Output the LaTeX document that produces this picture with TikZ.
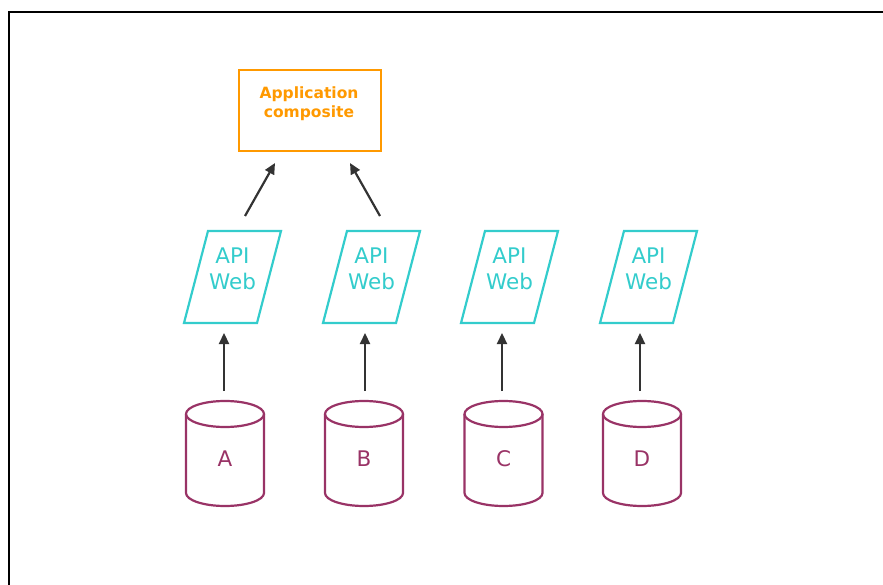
\documentclass[tikz,border=0pt]{standalone}
\usepackage{fontspec}
\setmainfont{DejaVu Sans}
\usetikzlibrary{arrows.meta}
\definecolor{orng}{HTML}{FF9900}
\definecolor{teal2}{HTML}{33CCCC}
\definecolor{purp}{HTML}{993366}
\definecolor{arrc}{HTML}{333333}
\begin{document}
\begin{tikzpicture}[x=1pt,y=-1pt,
  appbox/.style={draw=orng,line width=1.8pt,minimum width=142pt,minimum height=81pt,inner sep=0pt},
  apptxt/.style={text=orng,font=\fontsize{15.5}{19}\selectfont\bfseries,align=center,inner sep=0pt},
  apitxt/.style={text=teal2,font=\fontsize{21.5}{26}\selectfont,align=center,inner sep=0pt},
  para/.style={draw=teal2,line width=2.2pt,line join=miter},
  dbtxt/.style={text=purp,font=\fontsize{21.5}{24}\selectfont,inner sep=0pt},
  cyl/.style={draw=purp,line width=2.2pt},
  arr/.style={draw=arrc,line width=2.2pt,-{Triangle[length=11pt,width=10pt]}}]
\useasboundingbox (0,0) rectangle (883,585);
\draw[line width=2.2pt] (9,585) -- (9,12) -- (883,12);

\node[appbox] (app) at (310,110.5) {};
\node[apptxt] (apptext) at (309,104) {Application\\composite};

% API Web parallelograms
\foreach \n/\cx in {1/232.5,2/371.5,3/509.5,4/648.5}{
  \draw[para] (\cx-48.5,323) -- (\cx+24.5,323) -- (\cx+48.5,231) -- (\cx-24.5,231) -- cycle;
  \node[apitxt] (w\n) at (\cx,269) {API\\Web};
}
% cylinders
\foreach \n/\cx/\l in {1/225/A,2/364/B,3/503.5/C,4/642/D}{
  \draw[cyl] (\cx,414) ellipse [x radius=39, y radius=13];
  \draw[cyl] (\cx-39,414) -- (\cx-39,493) arc[start angle=180,end angle=0,x radius=39,y radius=13] -- (\cx+39,414);
  \node[dbtxt] (d\n) at (\cx,459) {\l};
}
% vertical arrows
\foreach \n/\ax in {1/224,2/365,3/502,4/640}{
  \coordinate (s\n) at (\ax,391);
  \coordinate (e\n) at (\ax,333);
  \draw[arr] (s\n) -- (e\n);
}
% diagonal arrows
\coordinate (ds1) at (245,216);
\coordinate (de1) at (275,163);
\coordinate (ds2) at (380,216);
\coordinate (de2) at (350,163);
\draw[arr] (ds1) -- (de1);
\draw[arr] (ds2) -- (de2);
\end{tikzpicture}
\end{document}
